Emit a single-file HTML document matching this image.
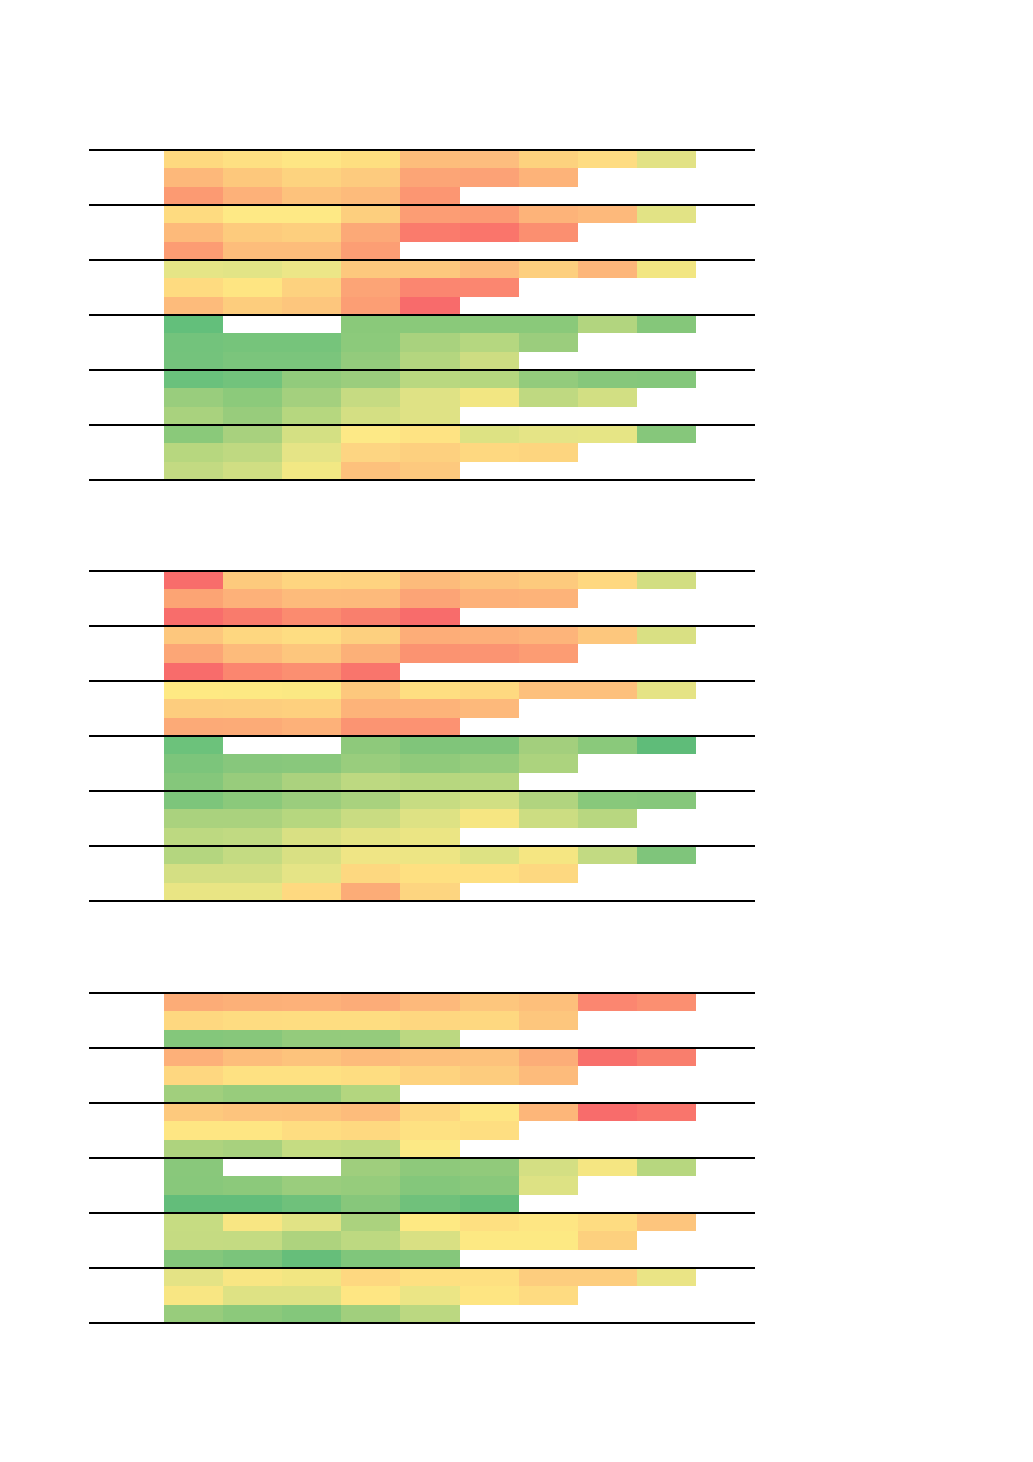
<!DOCTYPE html>
<html><head><meta charset="utf-8"><style>
body{margin:0;background:#fff;width:1033px;height:1462px;position:relative;overflow:hidden;font-family:"Liberation Sans",sans-serif}
.c{position:absolute;height:18.4px}
.l{position:absolute;left:89px;width:666px;height:1.3px;background:#000}
</style></head><body>
<div id="r"></div>
<script>
var S=[
[150,[
["#fed97f,#fee082,#fee684,#fedf80,#fdbd7b,#fdbd7e,#fdd27e,#fedc82,#e2e285","#fdb87a,#fdc87c,#fdd37f,#fdcb7e,#fca576,#fca276,#fdb379","#fc9a72,#fdb179,#fdc27c,#fdbb7b,#fc9672"],
["#fedb80,#fee985,#fee985,#fdcf7e,#fc9d74,#fc9a73,#fdb379,#fdb97b,#e2e385","#fdba7a,#fdcb7d,#fdcf7e,#fca977,#fa7b6c,#fa756b,#fb8f70","#fc9c73,#fdbd7b,#fdbd7b,#fc9e74"],
["#e5e586,#e2e486,#ece687,#fdc87d,#fdc87d,#fdbb7b,#fdcf7e,#fdb67a,#f2e682","#fedb80,#fee582,#fdd27f,#fca476,#fb8670,#fb8670","#fdbb7b,#fdcd7d,#fdc67d,#fc9e74,#f86b6b"],
["#63bf7b,#fff,#fff,#8ac97a,#8ac97a,#8ac97a,#8ac97a,#b2d57f,#85c77a","#73c37c,#76c47b,#76c47b,#8cca7b,#a9d27e,#b5d780,#9bcd7d","#74c37c,#7bc57c,#7bc57c,#93cb7c,#b4d67f,#cddd82"],
["#6ac17c,#72c37c,#92cb7c,#9bcd7d,#b9d880,#b5d77f,#93cb7c,#86c77b,#84c77b","#99cd7d,#8cca7b,#a4d07e,#c6db82,#dfe285,#f2e682,#bfd981,#d2df83","#a9d27e,#98cc7c,#b6d77f,#d4df83,#dfe285"],
["#8ac97a,#a8d17e,#d4e083,#fde986,#fee383,#dde283,#e5e486,#e6e585,#86c77b","#b7d77f,#bfd981,#e5e486,#fdd582,#fdd07f,#fed880,#fdd57f","#c3da82,#d0de83,#f2e884,#fdc17c,#fdc97e"]]],
[571,[
["#f86d6b,#fdca7d,#fed580,#fed380,#fdbb7b,#fdc47d,#fdca7d,#fed880,#d2de82","#fca474,#fdb179,#fdbb7b,#fdba7b,#fca476,#fdb179,#fdb379","#f86d6b,#f97b6c,#fb8b6f,#f97f6d,#f86c6b"],
["#fdc77d,#fed780,#fedd82,#fdd07f,#fdad78,#fdaf79,#fdb47a,#fdc77d,#d9e083","#fca676,#fdbb7b,#fdc67d,#fcb078,#fb9371,#fb9472,#fc9c73","#f86c6b,#fb866f,#fb8f71,#f9756c"],
["#fee983,#fde983,#fbe883,#fdc87d,#fede81,#fed980,#fdc07c,#fdc07c,#e5e385","#fdcd7e,#fdce7e,#fed07e,#fdb379,#fdb379,#fdb97b","#fcaa77,#fcab77,#fdb179,#fb9472,#fc9272"],
["#6cc27b,#fff,#fff,#8ec97b,#80c57a,#80c57a,#a3cf7d,#8ac97b,#5fbc79","#7cc57b,#87c77c,#89c87c,#99cd7d,#90ca7b,#96cc7c,#acd37e","#85c77b,#98cc7c,#abd27e,#bdd981,#b7d77f,#b7d780"],
["#7dc57b,#8bc97b,#9bcd7d,#a9d27e,#c7dc82,#d1df83,#b1d47f,#88c87b,#86c77b","#aad27e,#aad27e,#b6d77f,#c9dc82,#dee284,#f6e682,#ccdd82,#b8d780","#bdd981,#c1da82,#d9e083,#e4e384,#ebe584"],
["#b4d67f,#c4db82,#d9e083,#efe585,#ede584,#dde283,#f5e682,#c2da82,#7fc57b","#d4df83,#d4df83,#e5e486,#fdd880,#fee081,#fee081,#fdd880","#e9e584,#e9e584,#fed980,#fcac77,#fdd580"]]],
[993,[
["#fcac77,#fcb078,#fdb179,#fcac78,#fdb97b,#fdc67d,#fdbf7b,#fb8670,#fb8f71","#fed880,#fedc81,#fedd81,#fedd81,#fed780,#fed880,#fdc67d","#84c77b,#87c77b,#94cb7c,#95cb7c,#bbd881"],
["#fdb079,#fdbd7b,#fdc37c,#fdbb7b,#fdc07c,#fdc27c,#fcad78,#f86f6b,#f97e6d","#fed780,#fee182,#fee182,#fedd81,#fed37f,#fdcc7e,#fdbb7b","#a1cf7d,#98cc7c,#98cc7c,#b3d67f"],
["#fdc97d,#fdc47d,#fdc37c,#fdbc7b,#fed780,#fee683,#fdb679,#f86c6b,#f9756c","#fee683,#fee683,#fedd81,#fed980,#fee182,#fede81","#aed37e,#a8d17e,#c5dc82,#c1da82,#fce985"],
["#89c87b,#fff,#fff,#9fce7d,#8ec97b,#91ca7b,#d4df83,#f5e682,#b7d77f","#88c87b,#8cc97b,#9acd7d,#96cc7c,#84c77b,#89c87b,#dde284","#63bd7a,#63bd7a,#6fc17b,#87c77b,#70c17b,#65be7a"],
["#c6dc82,#f8e683,#e1e385,#abd27e,#fee983,#fee081,#fee683,#fedc81,#fdc57d","#c5db82,#c4db82,#aed37e,#bdd981,#d9e083,#fde983,#fde983,#fdd07e","#84c77b,#7bc47b,#66be7a,#80c67b,#85c77b"],
["#e4e385,#f8e683,#f2e682,#fed880,#fee081,#fee081,#fdcd7e,#fdcd7e,#eae485","#f8e683,#dee284,#dee284,#fee683,#ebe585,#fee582,#fedb81","#98cc7c,#8cc97b,#84c77b,#a1cf7d,#bbd881"]]]];
var h='';
S.forEach(function(s){var top=s[0];
s[1].forEach(function(g,gi){
g.forEach(function(row,ri){var y=top+gi*55+ri*55/3;
row.split(',').forEach(function(c,ci){
h+='<div class="c" style="left:'+(164+ci*59.1)+'px;top:'+y+'px;width:59.2px;background:'+c+'"></div>';});});
h+='<div class="l" style="top:'+(top+gi*55-0.6)+'px"></div>';});
h+='<div class="l" style="top:'+(top+330-0.6)+'px"></div>';});
document.getElementById('r').innerHTML=h;
</script>
</body></html>
